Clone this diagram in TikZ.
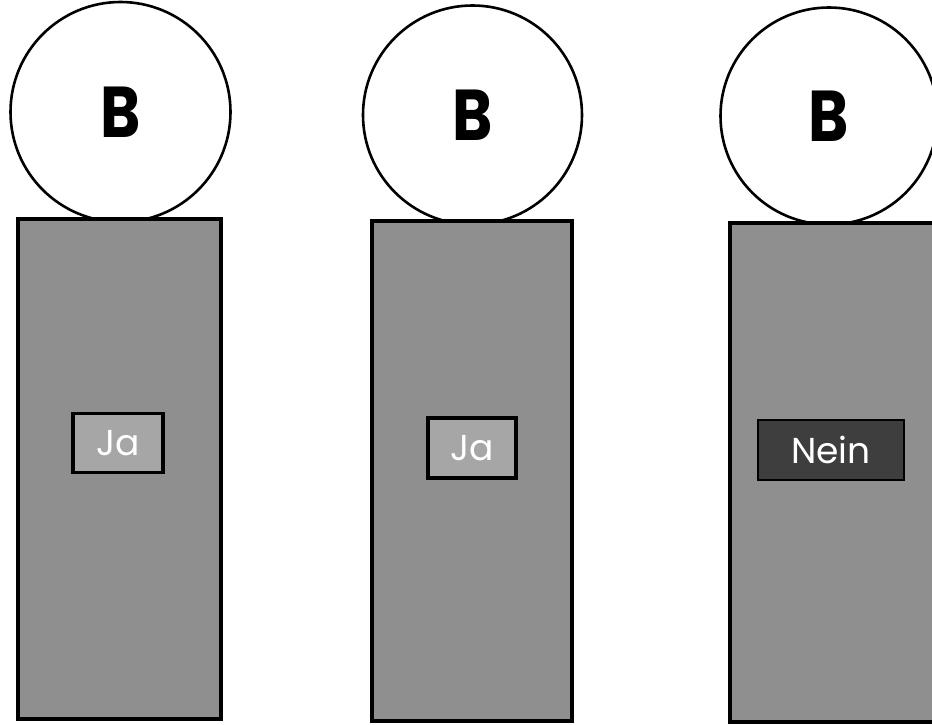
\documentclass[tikz,border=0pt]{standalone}
\usepackage{fontspec}
\setmainfont{Poppins}
\definecolor{bodygray}{HTML}{8F8F8F}
\definecolor{jagray}{HTML}{A6A6A6}
\definecolor{neingray}{HTML}{3E3E3E}
\begin{document}
\begin{tikzpicture}[x=1pt,y=-1pt,
  ball/.style={circle,draw=black,line width=2.6pt,fill=white,inner sep=0pt,font=\fontsize{72}{72}\selectfont\bfseries},
  body/.style={draw=black,line width=3.2pt,fill=bodygray,inner sep=0pt},
  janode/.style={draw=black,line width=3.2pt,fill=jagray,text=white,inner sep=0pt,font=\fontsize{36}{36}\selectfont},
  neinnode/.style={draw=black,line width=2.6pt,fill=neingray,text=white,inner sep=0pt,font=\fontsize{36}{36}\selectfont}]
\useasboundingbox (0,0) rectangle (932,725);
\fill[white] (0,0) rectangle (932,725);
% circles
\node[ball,minimum size=220pt] (b1) at (120.5,112) {\scalebox{0.85}[1]{B}};
\node[ball,minimum size=219pt] (b2) at (472.5,115) {\scalebox{0.85}[1]{B}};
\node[ball,minimum size=217pt] (b3) at (829,116) {\scalebox{0.85}[1]{B}};
% bodies
\node[body,minimum width=203pt,minimum height=500pt] (r1) at (119.5,469) {};
\node[body,minimum width=200pt,minimum height=500pt] (r2) at (472,471) {};
\node[body,minimum width=206pt,minimum height=499pt] (r3) at (833,472.5) {};
% labels
\node[janode,minimum width=90pt,minimum height=59pt] (j1) at (118,443) {Ja};
\node[janode,minimum width=88pt,minimum height=60pt] (j2) at (472,448) {Ja};
\node[neinnode,minimum width=146pt,minimum height=60pt] (n3) at (831,450) {Nein};
\end{tikzpicture}
\end{document}
